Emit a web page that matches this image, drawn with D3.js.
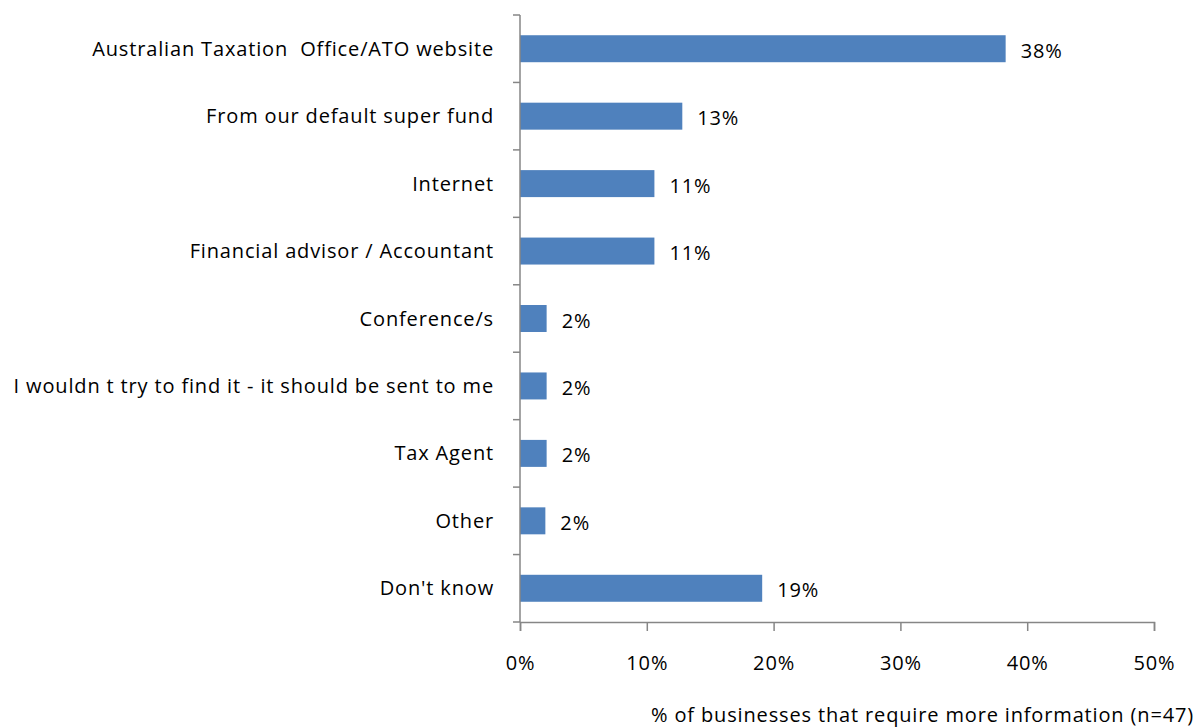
<!DOCTYPE html>
<html>
<head>
<meta charset="utf-8">
<script src="https://cdn.jsdelivr.net/npm/d3@7"></script>
<style>
  body { margin: 0; background: #fff; }
  text { font-family: "Open Sans", sans-serif; fill: #000; white-space: pre; }
</style>
</head>
<body>
<div id="chart"></div>
<script>
// categories and values (% of businesses, n=47)
var categories = [
    "Australian Taxation  Office/ATO website",
    "From our default super fund",
    "Internet",
    "Financial advisor / Accountant",
    "Conference/s",
    "I wouldn t try to find it - it should be sent to me",
    "Tax Agent",
    "Other",
    "Don't know"
];
var values = [38.3, 12.8, 10.6, 10.6, 2.1, 2.1, 2.1, 2.0, 19.1];
var valueLabels = ["38%", "13%", "11%", "11%", "2%", "2%", "2%", "2%", "19%"];
var xTicks = [0, 10, 20, 30, 40, 50];
var xTitle = "% of businesses that require more information (n=47)";

var width = 1195,
    height = 728;

var margin = {top: 15, right: 41, bottom: 106, left: 520};
var fontSize = "20px",
    spacing = "0.85px";

var svg = d3.select("#chart").append("svg")
    .attr("width", width)
    .attr("height", height);

var x = d3.scaleLinear()
    .domain([0, 50])
    .range([margin.left, width - margin.right]);

var y = d3.scaleBand()
    .domain(categories)
    .range([margin.top, height - margin.bottom])
    .paddingInner(0.6)
    .paddingOuter(0.3);

// bars
svg.append("g")
    .selectAll("rect")
    .data(values)
    .enter().append("rect")
    .attr("x", x(0))
    .attr("y", function(d, i) { return y(categories[i]); })
    .attr("width", function(d) { return x(d) - x(0); })
    .attr("height", y.bandwidth())
    .style("fill", "#4F81BD");

// value labels
svg.append("g")
    .selectAll("text")
    .data(values)
    .enter().append("text")
    .attr("x", function(d) { return x(d) + 15; })
    .attr("y", function(d, i) { return y(categories[i]) + y.bandwidth() / 2 + 2; })
    .attr("dy", "0.35em")
    .style("font-size", fontSize)
    .style("letter-spacing", spacing)
    .text(function(d, i) { return valueLabels[i]; });

// category axis: ticks sit between the bands
var catTicks = d3.range(categories.length + 1).map(function(i) { return margin.top + i * (height - margin.top - margin.bottom) / categories.length; });

var yAxis = svg.append("g");
yAxis.append("line")
    .attr("x1", x(0)).attr("x2", x(0))
    .attr("y1", margin.top).attr("y2", height - margin.bottom)
    .style("stroke", "#868686").style("stroke-width", 1.5);
yAxis.selectAll(".tick")
    .data(catTicks)
    .enter().append("line")
    .attr("x1", x(0) - 7).attr("x2", x(0))
    .attr("y1", function(d) { return d; }).attr("y2", function(d) { return d; })
    .style("stroke", "#868686").style("stroke-width", 1.5);
yAxis.selectAll("text")
    .data(categories)
    .enter().append("text")
    .attr("x", x(0) - 26)
    .attr("y", function(d) { return y(d) + y.bandwidth() / 2; })
    .attr("dy", "0.35em")
    .attr("text-anchor", "end")
    .style("font-size", fontSize)
    .style("letter-spacing", spacing)
    .text(function(d) { return d; });

// value axis
var xAxis = d3.axisBottom(x)
    .tickValues(xTicks)
    .tickSize(9)
    .tickPadding(25)
    .tickFormat(function(d) { return d + "%"; });

var gx = svg.append("g")
    .attr("transform", "translate(0," + (height - margin.bottom) + ")")
    .call(xAxis);
gx.select(".domain").style("stroke", "#868686").style("stroke-width", 1.5);
gx.selectAll(".tick line").style("stroke", "#868686").style("stroke-width", 1.5);
gx.selectAll(".tick text")
    .style("font-size", fontSize)
    .style("letter-spacing", spacing)
    .style("font-family", "'Open Sans', sans-serif")
    .style("fill", "#000");

// axis title
svg.append("text")
    .attr("x", width - 1)
    .attr("y", 722)
    .attr("text-anchor", "end")
    .style("font-size", fontSize)
    .style("letter-spacing", spacing)
    .text(xTitle);
</script>
</body>
</html>
